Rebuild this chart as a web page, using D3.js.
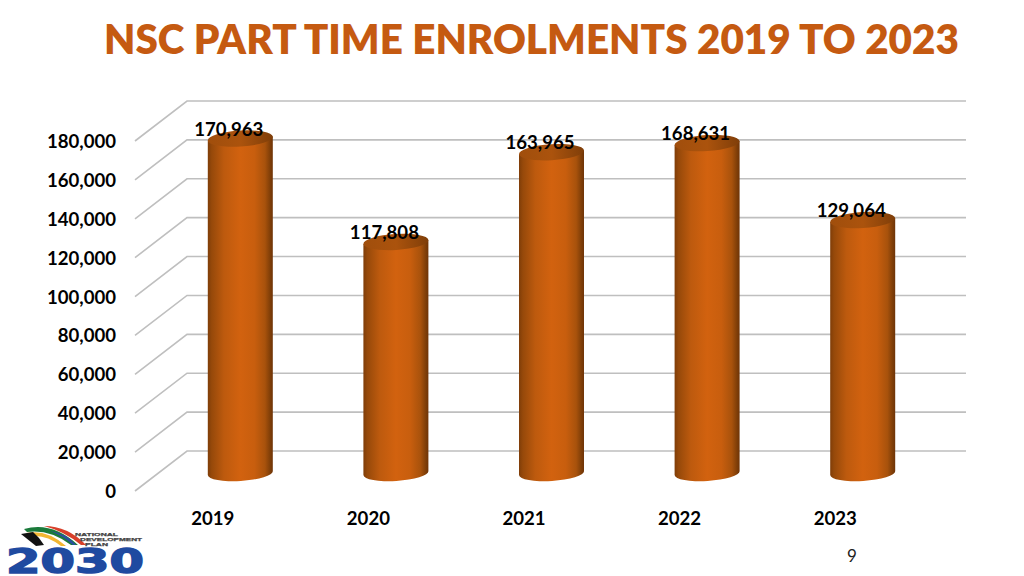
<!DOCTYPE html>
<html><head><meta charset="utf-8">
<script src="https://cdn.jsdelivr.net/npm/d3@7/dist/d3.min.js"></script>
<style>html,body{margin:0;padding:0;background:#fff}svg{display:block}text{font-family:Lato,"Open Sans",sans-serif}</style>
</head><body><svg id="c" width="1024" height="576"></svg>
<script>
const years=["2019","2020","2021","2022","2023"];
const enrolments=[170963,117808,163965,168631,129064];
const tickValues=[0,20000,40000,60000,80000,100000,120000,140000,160000,180000];
const titleText="NSC PART TIME ENROLMENTS 2019 TO 2023";
const pageNumber="9";

const depthX=52,depthY=40;
const svg=d3.select("#c");
const y=d3.scaleLinear().domain([0,180000]).range([491,141]);
const x=d3.scaleBand().domain(years).range([135,913]);
const fmt=d3.format(",");
const barW=65,ry=8,tilt=-3.5,drop=2;

const defs=svg.append("defs");
const g=defs.append("linearGradient").attr("id","cyl");
[[0,"#7f3d08"],[.06,"#96490a"],[.25,"#bd5a0e"],[.5,"#d2620f"],[.72,"#c85e0e"],[.88,"#a8520c"],[.96,"#7f3e08"],[1,"#6f3407"]]
 .forEach(s=>g.append("stop").attr("offset",s[0]).attr("stop-color",s[1]));
const gt=defs.append("linearGradient").attr("id","cap");
[[0,"#a04e0c"],[.5,"#ab530d"],[1,"#7f3e09"]].forEach(s=>gt.append("stop").attr("offset",s[0]).attr("stop-color",s[1]));

svg.append("text").attr("x",104).attr("y",53.5).attr("textLength",855).attr("lengthAdjust","spacingAndGlyphs")
 .attr("font-size",42).attr("font-weight",800).attr("fill","#c55a11").text(titleText);

const grid=svg.append("g").attr("fill","none").attr("stroke","#bfbfbf").attr("stroke-width",1.6);
tickValues.forEach(t=>{
 grid.append("path").attr("d",d3.line()([[135,y(t)],[135+depthX,y(t)-depthY],[966,y(t)-depthY]]));
});

svg.append("g").selectAll("text").data(tickValues).join("text")
 .attr("x",116).attr("y",d=>y(d)+7).attr("text-anchor","end")
 .attr("font-size",18.6).attr("font-weight",700).attr("fill","#000").text(d=>fmt(d));

svg.append("g").selectAll("text").data(years).join("text")
 .attr("x",d=>x(d)+x.bandwidth()/2).attr("y",525).attr("text-anchor","middle")
 .attr("font-size",18.6).attr("font-weight",700).attr("fill","#000").text(d=>d);

const cx=d=>x(d)+x.bandwidth()/2+depthX/2+1.5;
const r=barW/2,rr=Math.hypot(r,drop);
const bars=svg.append("g").selectAll("g").data(years.map((d,i)=>({year:d,v:enrolments[i]}))).join("g");
bars.append("path").attr("fill","url(#cyl)").attr("d",d=>{
 const c=cx(d.year),t=y(d.v)-depthY/2,b=y(0)-depthY/2+2;
 return `M${c-r},${t+drop}L${c-r},${b+drop}A${rr},${ry} ${tilt} 0 0 ${c+r},${b-drop}L${c+r},${t-drop}Z`;
});
bars.append("ellipse").attr("fill","url(#cap)")
 .attr("rx",rr).attr("ry",ry)
 .attr("transform",d=>`translate(${cx(d.year)},${y(d.v)-depthY/2}) rotate(${tilt})`);

bars.append("text").attr("x",d=>cx(d.year)-11.5).attr("y",d=>y(d.v)-depthY/2-3)
 .attr("text-anchor","middle").attr("font-size",18.6).attr("font-weight",700).attr("fill","#000").text(d=>fmt(d.v));

svg.append("text").attr("x",852).attr("y",562).attr("text-anchor","middle").attr("font-size",17).attr("fill","#222").text(pageNumber);

const logo=svg.append("g");
[["#1a7a3a","M24,529Q52,521 78,545L71,545Q50,529 27,532Z"],
 ["#f2b632","M26,533Q47,529 66,546L61,546Q47,535 33,536Z"],
 ["#d8402a","M44,526Q68,526 86,545L81,545Q64,531 44,526Z"],
 ["#2a4f9f","M50,531Q66,533 76,545L73,545Q62,535 50,531Z"],
 ["#111","M21,534L33,532Q40,538 44,545L36,546Z"]
].forEach(a=>logo.append("path").attr("d",a[1]).attr("fill",a[0]));
logo.append("text").attr("x",6).attr("y",572.5).attr("textLength",138).attr("lengthAdjust","spacingAndGlyphs")
 .attr("font-size",33).attr("font-weight",900).attr("fill","#1f4aa0").attr("stroke","#1f4aa0").attr("stroke-width",1.4)
 .style("font-family","'DejaVu Sans'").text("2030");
[["NATIONAL",75,535.5,43],["DEVELOPMENT",80,541,62],["PLAN",85,546,23]].forEach(a=>{
 logo.append("text").attr("x",a[1]).attr("y",a[2]).attr("textLength",a[3]).attr("lengthAdjust","spacingAndGlyphs")
  .attr("font-size",4.4).attr("font-weight",800).attr("fill","#444").attr("stroke","#444").attr("stroke-width",.25)
  .style("font-family","'Liberation Sans'").text(a[0]);
});
</script></body></html>
